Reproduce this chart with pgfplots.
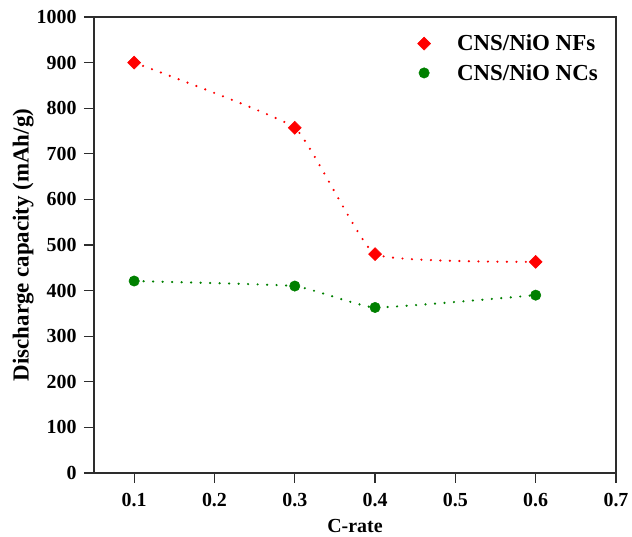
\documentclass[border=0pt]{standalone}
\usepackage{fontspec}
\setmainfont{Liberation Serif}
\usepackage{pgfplots}
\pgfplotsset{compat=1.18}

\definecolor{nfred}{RGB}{255,0,0}
\definecolor{ncgreen}{RGB}{0,128,0}
\definecolor{axgray}{RGB}{45,45,45}

\begin{document}
\begin{tikzpicture}
\begin{axis}[
  scale only axis, width=522bp, height=456bp,
  xmin=0.05, xmax=0.7, ymin=0, ymax=1000,
  xtick={0.1,0.2,...,0.7}, ytick={0,100,...,1000},
  axis line style={axgray, line width=1.3bp},
  tick style={axgray, line width=1.3bp},
  tick align=outside, major tick length=10bp,
  xtick pos=bottom, ytick pos=left,
  /pgf/number format/assume math mode=true,
  xticklabel style={/pgf/number format/fixed, /pgf/number format/fixed zerofill,
    /pgf/number format/precision=1, yshift=-7bp},
  yticklabel style={/pgf/number format/fixed, /pgf/number format/1000 sep={}, xshift=-4bp},
  ticklabel style={font=\fontsize{20}{22}\selectfont\bfseries},
  xlabel={C-rate}, ylabel={Discharge capacity (mAh/g)},
  xlabel style={font=\fontsize{20}{22}\selectfont\bfseries, yshift=-5bp},
  ylabel style={font=\fontsize{23}{25}\selectfont\bfseries, yshift=-4bp},
  legend style={draw=none, fill=none, at={(0.975,0.97)}, anchor=north east,
    font=\fontsize{23}{25}\selectfont\bfseries, row sep=8bp},
  legend cell align=left,
  legend image code/.code={\draw[#1,only marks] plot coordinates {(0cm,0cm)}; \path (-0.2cm,0cm) (1.05cm,0cm);},
]
\draw[axgray, line width=1.3bp] (rel axis cs:0,1) -- (rel axis cs:1,1) -- (rel axis cs:1,0);
\addplot[nfred, line width=2.4bp, line cap=round, dash pattern=on 0bp off 9.5bp,
  smooth, tension=0.22,
  mark=square*, mark size=4.6bp, mark options={solid, rotate=45, fill=nfred, draw=nfred, line width=0.5bp}]
  coordinates {(0.1,900) (0.3,757) (0.4,480) (0.6,463)};
\addlegendentry{CNS/NiO NFs}
\addplot[ncgreen, line width=2.4bp, line cap=round, dash pattern=on 0bp off 9.5bp,
  smooth, tension=0.22,
  mark=*, mark size=5.2bp, mark options={solid, fill=ncgreen, draw=ncgreen, line width=0.5bp}]
  coordinates {(0.1,421) (0.3,410) (0.4,363) (0.6,390)};
\addlegendentry{CNS/NiO NCs}
\end{axis}
\pgfresetboundingbox
\useasboundingbox (-94bp,-64bp) rectangle (538bp,473bp);
\end{tikzpicture}
\end{document}
